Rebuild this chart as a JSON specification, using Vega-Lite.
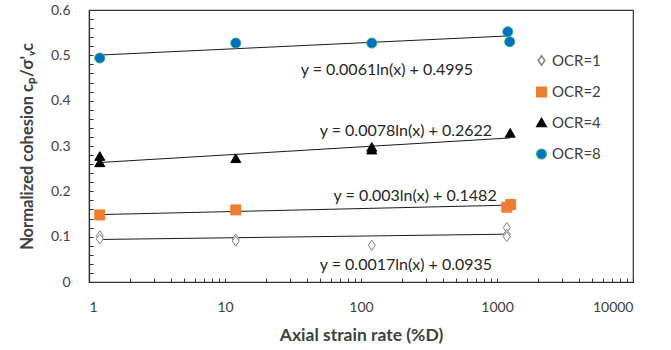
{
  "$schema": "https://vega.github.io/schema/vega-lite/v6.json",
  "width": 544,
  "height": 272,
  "autosize": {"type": "none"},
  "padding": {"left": 89, "top": 10, "right": 38, "bottom": 68},
  "background": "white",
  "config": {
    "font": "Lato",
    "view": {"stroke": "#333333", "strokeWidth": 1.2},
    "axis": {
      "grid": false,
      "domainColor": "#333333",
      "domainWidth": 1.2,
      "tickColor": "#333333",
      "labelColor": "#404040",
      "labelFontSize": 14,
      "labelFont": "Lato",
      "labelOverlap": false,
      "labelBound": false,
      "titleFont": "Lato",
      "titleFontWeight": "bold",
      "titleColor": "#404040"
    },
    "legend": {"labelFont": "Lato", "labelFontSize": 15, "labelColor": "#404040"}
  },
  "datasets": {
    "points": [
      {"ocr": "OCR=1", "rate": 1.2, "c": 0.102},
      {"ocr": "OCR=1", "rate": 1.2, "c": 0.095},
      {"ocr": "OCR=1", "rate": 12, "c": 0.095},
      {"ocr": "OCR=1", "rate": 12, "c": 0.09},
      {"ocr": "OCR=1", "rate": 120, "c": 0.081},
      {"ocr": "OCR=1", "rate": 1180, "c": 0.12},
      {"ocr": "OCR=1", "rate": 1180, "c": 0.105},
      {"ocr": "OCR=1", "rate": 1180, "c": 0.1},
      {"ocr": "OCR=2", "rate": 1.2, "c": 0.148},
      {"ocr": "OCR=2", "rate": 12, "c": 0.159},
      {"ocr": "OCR=2", "rate": 1180, "c": 0.165},
      {"ocr": "OCR=2", "rate": 1260, "c": 0.171},
      {"ocr": "OCR=4", "rate": 1.2, "c": 0.278},
      {"ocr": "OCR=4", "rate": 1.2, "c": 0.264},
      {"ocr": "OCR=4", "rate": 12, "c": 0.273},
      {"ocr": "OCR=4", "rate": 120, "c": 0.298},
      {"ocr": "OCR=4", "rate": 120, "c": 0.292},
      {"ocr": "OCR=4", "rate": 1250, "c": 0.329},
      {"ocr": "OCR=8", "rate": 1.2, "c": 0.494},
      {"ocr": "OCR=8", "rate": 12, "c": 0.527},
      {"ocr": "OCR=8", "rate": 120, "c": 0.527},
      {"ocr": "OCR=8", "rate": 1200, "c": 0.552},
      {"ocr": "OCR=8", "rate": 1240, "c": 0.53}
    ],
    "fits": [
      {"series": "OCR=1", "rate": 1.2, "c": 0.0938},
      {"series": "OCR=1", "rate": 1250, "c": 0.1056},
      {"series": "OCR=2", "rate": 1.2, "c": 0.1487},
      {"series": "OCR=2", "rate": 1250, "c": 0.1696},
      {"series": "OCR=4", "rate": 1.2, "c": 0.2636},
      {"series": "OCR=4", "rate": 1250, "c": 0.3178},
      {"series": "OCR=8", "rate": 1.2, "c": 0.5006},
      {"series": "OCR=8", "rate": 1250, "c": 0.543}
    ],
    "eqs": [
      {"text": "y = 0.0061ln(x) + 0.4995", "rate": 155, "c": 0.468},
      {"text": "y = 0.0078ln(x) + 0.2622", "rate": 214, "c": 0.333},
      {"text": "y = 0.003ln(x) + 0.1482", "rate": 250, "c": 0.19},
      {"text": "y = 0.0017ln(x) + 0.0935", "rate": 214, "c": 0.0375}
    ]
  },
  "layer": [
    {
      "data": {"name": "fits"},
      "mark": {"type": "line", "color": "#1a1a1a", "strokeWidth": 1},
      "encoding": {
        "x": {
          "field": "rate", "type": "quantitative",
          "scale": {"type": "log", "domain": [1, 10000], "nice": false},
          "axis": {
            "title": "Axial strain rate (%D)",
            "titleFontSize": 17.5,
            "values": [1,2,3,4,5,6,7,8,9,10,20,30,40,50,60,70,80,90,100,200,300,400,500,600,700,800,900,1000,2000,3000,4000,5000,6000,7000,8000,9000,10000],
            "tickCount": 200,
            "format": "d",
            "labelExpr": "indexof([1,10,100,1000,10000], datum.value) >= 0 ? datum.label : ''",
            "tickSize": -4,
            "labelPadding": 22,
            "titlePadding": 12
          }
        },
        "y": {
          "field": "c", "type": "quantitative",
          "scale": {"domain": [0, 0.6], "nice": false, "zero": true},
          "axis": {
            "title": "Normalized cohesion  cₚ/σ'ᵥc",
            "titleFontSize": 16.5,
            "values": [0,0.02,0.04,0.06,0.08,0.1,0.12,0.14,0.16,0.18,0.2,0.22,0.24,0.26,0.28,0.3,0.32,0.34,0.36,0.38,0.4,0.42,0.44,0.46,0.48,0.5,0.52,0.54,0.56,0.58,0.6],
            "tickCount": 200,
            "labelExpr": "round(datum.value*100) % 10 == 0 ? format(datum.value, '.1~f') : ''",
            "tickSize": -4,
            "labelPadding": 23,
            "titlePadding": 15
          }
        },
        "detail": {"field": "series", "type": "nominal"}
      }
    },
    {
      "data": {"name": "points"},
      "mark": {"type": "point", "opacity": 1, "strokeWidth": 1, "size": 100},
      "encoding": {
        "x": {"field": "rate", "type": "quantitative"},
        "y": {"field": "c", "type": "quantitative"},
        "shape": {
          "field": "ocr", "type": "nominal",
          "scale": {"domain": ["OCR=1", "OCR=2", "OCR=4", "OCR=8"], "range": ["M0,-1L0.7,0L0,1L-0.7,0Z", "square", "triangle-up", "circle"]},
          "legend": {"title": null, "orient": "none", "legendX": 445, "legendY": 43, "rowPadding": 14.5, "padding": 0, "symbolSize": 90, "labelOffset": 3}
        },
        "fill": {
          "field": "ocr", "type": "nominal",
          "scale": {"domain": ["OCR=1", "OCR=2", "OCR=4", "OCR=8"], "range": ["#ffffff", "#ED7D31", "#000000", "#0070C0"]},
          "legend": {"title": null, "orient": "none", "legendX": 445, "legendY": 43, "rowPadding": 14.5, "padding": 0, "symbolSize": 90, "labelOffset": 3}
        },
        "stroke": {
          "field": "ocr", "type": "nominal",
          "scale": {"domain": ["OCR=1", "OCR=2", "OCR=4", "OCR=8"], "range": ["#808080", "#ED7D31", "#000000", "#2fa68c"]},
          "legend": {"title": null, "orient": "none", "legendX": 445, "legendY": 43, "rowPadding": 14.5, "padding": 0, "symbolSize": 90, "labelOffset": 3}
        }
      }
    },
    {
      "data": {"name": "eqs"},
      "mark": {"type": "text", "fontSize": 16, "font": "Lato", "color": "#262626", "align": "center", "baseline": "middle"},
      "encoding": {
        "x": {"field": "rate", "type": "quantitative"},
        "y": {"field": "c", "type": "quantitative"},
        "text": {"field": "text", "type": "nominal"}
      }
    }
  ]
}
